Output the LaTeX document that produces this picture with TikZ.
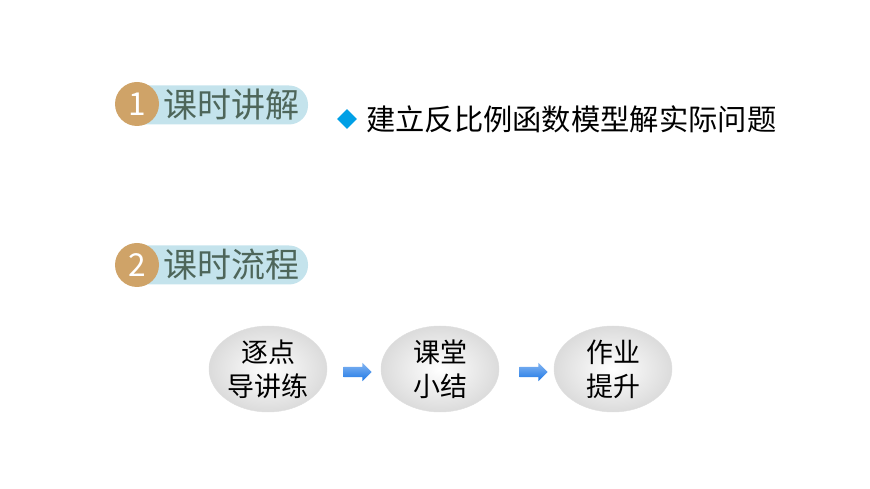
\documentclass[tikz,border=0pt]{standalone}
\usepackage{fontspec}
\setmainfont{Noto Sans CJK SC}
\usetikzlibrary{shapes.geometric, shapes.arrows, positioning}
\definecolor{tan}{RGB}{207,163,104}
\definecolor{pill}{RGB}{196,227,236}
\definecolor{headtext}{RGB}{78,102,90}
\definecolor{bullet}{RGB}{0,160,230}
\definecolor{arrowblue}{RGB}{30,120,230}
\tikzset{
  pillbox/.style={fill=pill, rounded corners=19*0.03cm, minimum height=39*0.03cm, minimum width=188*0.03cm, inner sep=0pt},
  badge/.style={circle, fill=tan, minimum size=44*0.03cm, inner sep=0pt, text=white, font=\fontsize{27}{27}\selectfont},
  headtitle/.style={text=headtext, font=\fontsize{29}{29}\selectfont, anchor=west, inner sep=0pt},
  stepnode/.style={ellipse, minimum width=118*0.03cm, minimum height=86*0.03cm, draw=gray!25, inner color=white, outer color=gray!28, align=center, font=\fontsize{23}{29}\selectfont, inner sep=0pt},
  flowarrow/.style={single arrow, inner xsep=0pt, inner ysep=5*0.03cm, single arrow head extend=4*0.03cm, minimum height=28*0.03cm, top color=arrowblue!55, bottom color=arrowblue, draw=none}
}
\begin{document}
\begin{tikzpicture}[x=0.03cm, y=-0.03cm]
  \useasboundingbox (0,0) rectangle (870,489);
  % headings
  \node[pillbox] (p1) at (214,105) {};
  \node[badge] (b1) at (137,104) {1};
  \node[headtitle] (t1) at (163,105) {课时讲解};
  \node[pillbox] (p2) at (214,265) {};
  \node[badge] (b2) at (137,265) {2};
  \node[headtitle] (t2) at (163,265) {课时流程};
  % topic
  \node[diamond, fill=bullet, minimum size=20*0.03cm, inner sep=0pt] (d) at (347,119) {};
  \node[anchor=west, inner sep=0pt, font=\fontsize{25}{25}\selectfont] (topic) at (366,119) {建立反比例函数模型解实际问题};
  % flow
  \node[stepnode] (s1) at (268,369) {逐点\\导讲练};
  \node[stepnode] (s2) at (440,369) {课堂\\小结};
  \node[stepnode] (s3) at (613,369) {作业\\提升};
  \node[flowarrow] (a1) at (355,372) {};
  \node[flowarrow] (a2) at (531,372) {};
\end{tikzpicture}
\end{document}
